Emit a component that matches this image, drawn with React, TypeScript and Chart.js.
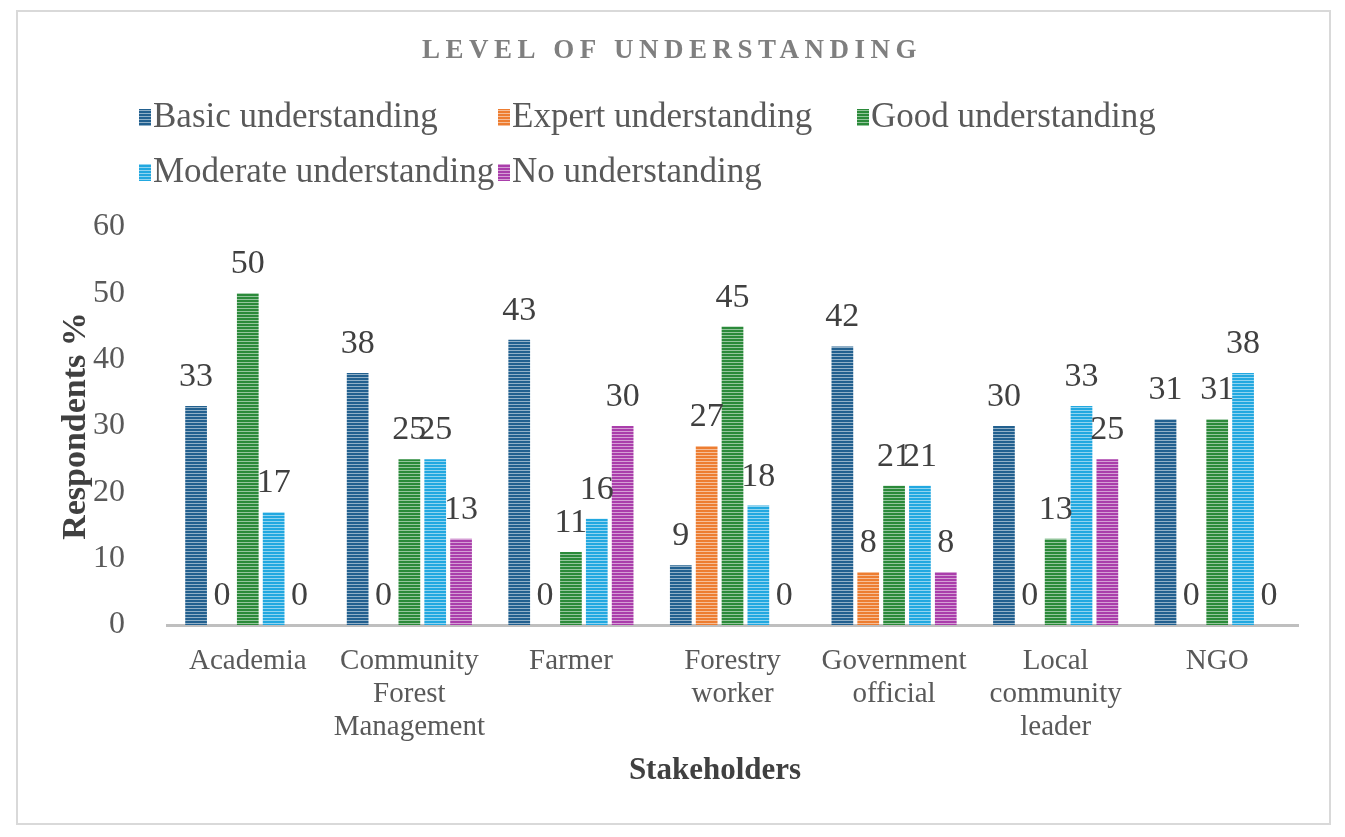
import React, { useEffect, useRef } from "react";
import { Chart, registerables } from "chart.js";

Chart.register(...registerables);

const FONT = '"Liberation Serif", "Times New Roman", serif';

const chartTitle = "LEVEL OF UNDERSTANDING";
const xAxisTitle = "Stakeholders";
const yAxisTitle = "Respondents %";
const stakeholders: string[][] = [
  ["Academia"],
  ["Community", "Forest", "Management"],
  ["Farmer"],
  ["Forestry", "worker"],
  ["Government", "official"],
  ["Local", "community", "leader"],
  ["NGO"],
];
const seriesNames = [
  "Basic understanding",
  "Expert understanding",
  "Good understanding",
  "Moderate understanding",
  "No understanding",
];
const basicValues = [33, 38, 43, 9, 42, 30, 31];
const expertValues = [0, 0, 0, 27, 8, 0, 0];
const goodValues = [50, 25, 11, 45, 21, 13, 31];
const moderateValues = [17, 25, 16, 18, 21, 33, 38];
const noneValues = [0, 13, 30, 0, 8, 25, 0];
const yTicks = [0, 10, 20, 30, 40, 50, 60];

const seriesColors = ["#22608f", "#ed7d31", "#2b8a3a", "#22a8e0", "#aa3eab"];

// Horizontal stripe fill: two rows of the base colour, one lighter row.
function stripePattern(color: string): CanvasPattern | string {
  const c = document.createElement("canvas");
  c.width = 4;
  c.height = 3;
  const g = c.getContext("2d");
  if (!g) return color;
  g.fillStyle = color;
  g.fillRect(0, 0, 4, 3);
  g.fillStyle = "rgba(255,255,255,0.5)";
  g.fillRect(0, 2, 4, 1);
  return g.createPattern(c, "repeat") || color;
}

const valueLabels = {
  id: "valueLabels",
  afterDatasetsDraw(chart: any) {
    const ctx = chart.ctx;
    ctx.save();
    ctx.font = `34px ${FONT}`;
    ctx.fillStyle = "#404040";
    ctx.textAlign = "center";
    ctx.textBaseline = "alphabetic";
    chart.data.datasets.forEach((ds: any, i: number) => {
      const meta = chart.getDatasetMeta(i);
      meta.data.forEach((el: any, j: number) => {
        ctx.fillText(String(ds.data[j]), el.x, el.y - 20);
      });
    });
    ctx.restore();
  },
};

const headerAndLegend = {
  id: "headerAndLegend",
  afterDraw(chart: any) {
    const ctx = chart.ctx;
    ctx.save();
    // title
    ctx.font = `bold 27px ${FONT}`;
    ctx.fillStyle = "#7f7f7f";
    (ctx as any).letterSpacing = "5.5px";
    ctx.textAlign = "center";
    ctx.textBaseline = "middle";
    ctx.fillText(chartTitle, 654, 39);
    (ctx as any).letterSpacing = "0px";

    // category axis title
    ctx.font = `bold 31px ${FONT}`;
    ctx.fillStyle = "#404040";
    ctx.fillText(xAxisTitle, 697, 759);

    // legend laid out on a fixed column grid
    const colX = [121, 480, 839];
    const rowY = [105, 160];
    ctx.font = `35px ${FONT}`;
    ctx.textAlign = "left";
    chart.data.datasets.forEach((ds: any, i: number) => {
      const x = colX[i % 3];
      const y = rowY[Math.floor(i / 3)];
      ctx.fillStyle = ds.backgroundColor;
      ctx.fillRect(x, y - 8, 12, 17);
      ctx.fillStyle = "#595959";
      ctx.fillText(ds.label, x + 14, y + 1);
    });
    ctx.restore();
  },
};

export default function App() {
  const ref = useRef<HTMLCanvasElement | null>(null);

  useEffect(() => {
    if (!ref.current) return;
    const values = [basicValues, expertValues, goodValues, moderateValues, noneValues];
    const chart = new Chart(ref.current, {
      type: "bar",
      data: {
        labels: stakeholders,
        datasets: seriesNames.map((name, i) => ({
          label: name,
          data: values[i],
          backgroundColor: stripePattern(seriesColors[i]) as any,
          borderWidth: 0,
          categoryPercentage: 0.8,
          barPercentage: 0.84,
        })),
      },
      options: {
        animation: false,
        responsive: false,
        maintainAspectRatio: false,
        layout: { padding: { top: 215, left: 0, right: 31, bottom: 0 } },
        plugins: {
          legend: { display: false },
          title: { display: false },
          tooltip: { enabled: false },
        },
        scales: {
          x: {
            grid: { display: false, drawTicks: false },
            border: { display: true, color: "#bfbfbf", width: 3 },
            ticks: {
              color: "#595959",
              font: { family: FONT, size: 29, lineHeight: 1.14 },
              padding: 20,
              maxRotation: 0,
              autoSkip: false,
            },
            title: { display: false },
            afterFit: (s: any) => {
              s.height = 198;
            },
          },
          y: {
            min: 0,
            max: 60,
            afterBuildTicks: (s: any) => {
              s.ticks = yTicks.map((v) => ({ value: v }));
            },
            grid: { display: false, drawTicks: false },
            border: { display: false },
            ticks: {
              color: "#595959",
              font: { family: FONT, size: 32 },
              padding: 42,
            },
            title: {
              display: true,
              text: yAxisTitle,
              color: "#404040",
              font: { family: FONT, size: 34, weight: "bold", lineHeight: 1.2 },
              padding: { top: 38, bottom: 0 },
            },
            afterFit: (s: any) => {
              s.width = 149;
            },
          },
        },
      },
      plugins: [valueLabels, headerAndLegend],
    });
    return () => chart.destroy();
  }, []);

  return (
    <div
      style={{
        position: "absolute",
        left: 16,
        top: 10,
        width: 1315,
        height: 815,
        border: "2px solid #d9d9d9",
        boxSizing: "border-box",
        background: "#fff",
      }}
    >
      <canvas ref={ref} width={1311} height={811} style={{ display: "block" }} />
    </div>
  );
}
